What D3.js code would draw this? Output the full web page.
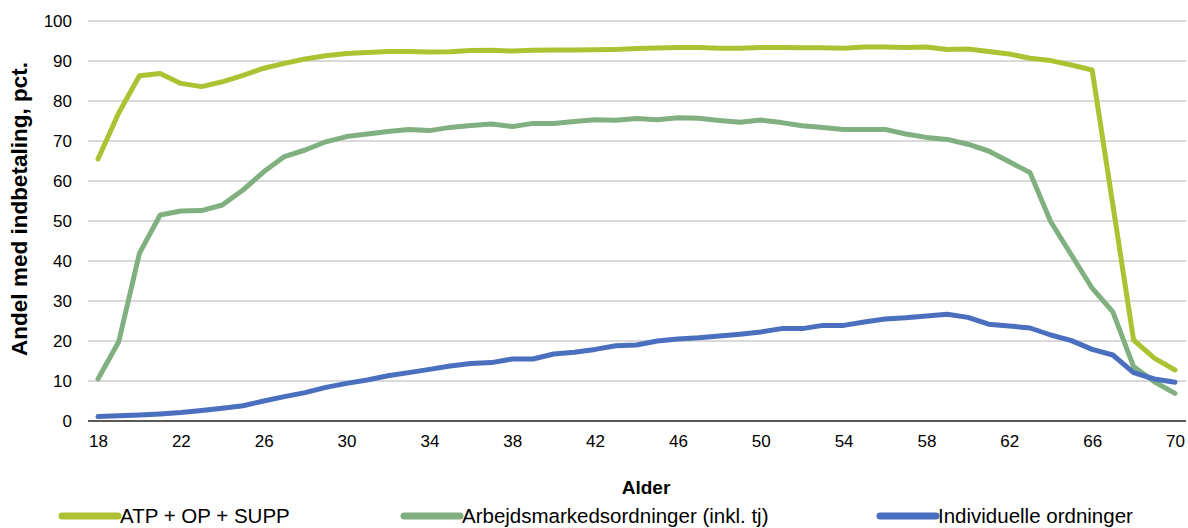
<!DOCTYPE html>
<html>
<head>
<meta charset="utf-8">
<script src="https://cdn.jsdelivr.net/npm/d3@7"></script>
<style>
  html, body { margin: 0; padding: 0; background: #fff; }
  svg { display: block; font-family: "Liberation Sans", Arial, Helvetica, sans-serif; }
</style>
</head>
<body>
<svg id="chart" width="1188" height="528"></svg>
<script>
// Alder 18–70
const ages = d3.range(18, 71);

// Andel med indbetaling (pct.) pr. alder
const atpOpSupp = [
  65.5, 77.0, 86.3, 86.9, 84.4, 83.6, 84.8, 86.4, 88.2, 89.4,
  90.5, 91.3, 91.9, 92.1, 92.4, 92.4, 92.25, 92.3, 92.6, 92.7,
  92.5, 92.7, 92.75, 92.75, 92.8, 92.9, 93.1, 93.25, 93.4, 93.4,
  93.2, 93.2, 93.4, 93.4, 93.3, 93.3, 93.2, 93.5, 93.5, 93.4,
  93.5, 92.9, 93.0, 92.4, 91.75, 90.7, 90.1, 89.0, 87.75, 54.0,
  20.25, 15.7, 12.75
];
const arbejdsmarked = [
  10.5, 19.8, 41.9, 51.5, 52.5, 52.6, 54.0, 57.75, 62.3, 66.1,
  67.75, 69.8, 71.1, 71.75, 72.4, 72.9, 72.6, 73.4, 73.9, 74.25,
  73.6, 74.4, 74.4, 74.9, 75.3, 75.2, 75.6, 75.3, 75.8, 75.7,
  75.1, 74.7, 75.25, 74.6, 73.8, 73.4, 72.9, 72.9, 72.9, 71.75,
  70.9, 70.4, 69.2, 67.5, 64.8, 62.1, 49.8, 41.5, 33.2, 27.3,
  13.6, 9.8, 6.9
];
const individuelle = [
  1.1, 1.3, 1.5, 1.75, 2.1, 2.6, 3.2, 3.8, 5.0, 6.1,
  7.1, 8.4, 9.4, 10.25, 11.3, 12.1, 12.9, 13.75, 14.4, 14.6,
  15.5, 15.5, 16.75, 17.2, 17.9, 18.8, 19.0, 20.0, 20.5, 20.8,
  21.25, 21.7, 22.25, 23.1, 23.1, 23.9, 23.9, 24.75, 25.5, 25.8,
  26.25, 26.7, 25.9, 24.2, 23.75, 23.25, 21.5, 20.1, 17.9, 16.5,
  12.1, 10.5, 9.7
];

const seriesNames = ["ATP + OP + SUPP", "Arbejdsmarkedsordninger (inkl. tj)", "Individuelle ordninger"];
const seriesColors = ["#adc232", "#80b080", "#4a6fbf"];
const xTicks = d3.range(18, 71, 4);
const yTicks = d3.range(0, 101, 10);

const series = [atpOpSupp, arbejdsmarked, individuelle].map((vals, i) => ({
  name: seriesNames[i],
  color: seriesColors[i],
  values: vals.map((v, j) => ({ age: ages[j], value: v }))
}));

const svg = d3.select("#chart");

const x = d3.scaleLinear().domain([18, 70]).range([98, 1175]);
const y = d3.scaleLinear().domain([0, 100]).range([421, 21]);

// horizontal gridlines
svg.append("g")
  .selectAll("line")
  .data(yTicks.filter(t => t > 0))
  .join("line")
  .attr("x1", 88).attr("x2", 1186)
  .attr("y1", d => y(d)).attr("y2", d => y(d))
  .attr("stroke", "#d9d9d9")
  .attr("stroke-width", 2);

// y axis labels
const yAxis = d3.axisLeft(y).tickValues(yTicks).tickSize(0).tickPadding(0);
svg.append("g")
  .attr("transform", "translate(72,0)")
  .call(yAxis)
  .call(g => g.select(".domain").remove())
  .selectAll("text")
  .attr("font-size", 17)
  .attr("font-family", "Liberation Sans, Arial, sans-serif")
  .attr("fill", "#000")
  .attr("dy", "0.35em");

// x axis
const xAxis = d3.axisBottom(x).tickValues(xTicks).tickSize(0).tickPadding(0);
svg.append("g")
  .attr("transform", "translate(0,421)")
  .call(xAxis)
  .call(g => g.select(".domain").remove())
  .selectAll("text")
  .attr("font-size", 17)
  .attr("font-family", "Liberation Sans, Arial, sans-serif")
  .attr("fill", "#000")
  .attr("y", 26)
  .attr("dy", 0);

// baseline
svg.append("line")
  .attr("x1", 88).attr("x2", 1186)
  .attr("y1", y(0)).attr("y2", y(0))
  .attr("stroke", "#595959")
  .attr("stroke-width", 2.2);

// lines
const line = d3.line().x(d => x(d.age)).y(d => y(d.value));
svg.append("g")
  .selectAll("path")
  .data(series)
  .join("path")
  .attr("d", d => line(d.values))
  .attr("fill", "none")
  .attr("stroke", d => d.color)
  .attr("stroke-width", 5)
  .attr("stroke-linejoin", "round")
  .attr("stroke-linecap", "round");

// axis titles
svg.append("text")
  .attr("x", 646).attr("y", 494)
  .attr("text-anchor", "middle")
  .attr("font-size", 19)
  .attr("font-weight", "bold")
  .attr("fill", "#000")
  .text("Alder");

svg.append("text")
  .attr("transform", "translate(27,209) rotate(-90)")
  .attr("text-anchor", "middle")
  .attr("font-size", 22.5)
  .attr("font-weight", "bold")
  .attr("fill", "#000")
  .text("Andel med indbetaling, pct.");

// legend
const legendX = [62, 404, 880];
const legend = svg.append("g")
  .selectAll("g")
  .data(series)
  .join("g")
  .attr("transform", (d, i) => `translate(${legendX[i]},516)`);
legend.append("line")
  .attr("x1", 0).attr("x2", 56)
  .attr("y1", 0).attr("y2", 0)
  .attr("stroke", d => d.color)
  .attr("stroke-width", 7)
  .attr("stroke-linecap", "round");
legend.append("text")
  .attr("x", 58).attr("y", 7)
  .attr("font-size", 20.5)
  .attr("fill", "#000")
  .text(d => d.name);
</script>
</body>
</html>
